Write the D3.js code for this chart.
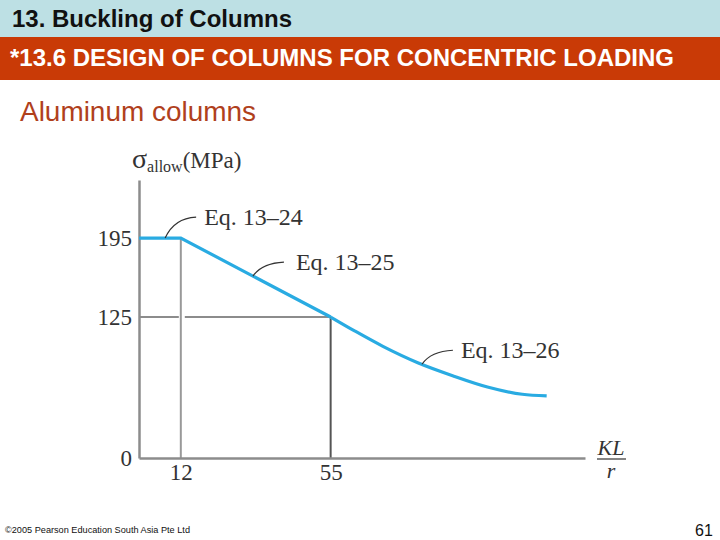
<!DOCTYPE html>
<html>
<head>
<meta charset="UTF-8">
<title>Aluminum columns</title>
<script src="https://d3js.org/d3.v7.min.js"></script>
<style>
  body { margin: 0; background: #fff; }
  svg { display: block; }
</style>
</head>
<body>
<svg id="chart"></svg>
<script>
// data
const klTicks = [12, 55];
const stressTicks = [0, 125, 195];
const linearKL = [0, 12, 55];
const linearStress = [195, 195, 125];
const curveKL = [55, 62, 70, 80, 90, 100, 110, 117];
const curveStress = [125, 112.5, 99, 84.5, 73, 63, 56.5, 55];
const eqLabels = ["Eq. 13\u201324", "Eq. 13\u201325", "Eq. 13\u201326"];
const eqAnchorKL = [7.5, 32.7, 81.2];

const width = 720, height = 540;
const svg = d3.select("#chart").attr("width", width).attr("height", height);

// header bands
svg.append("rect").attr("x", 0).attr("y", 0).attr("width", width).attr("height", 37).attr("fill", "#bde0e4");
svg.append("rect").attr("x", 0).attr("y", 37).attr("width", width).attr("height", 43).attr("fill", "#c93a06");
svg.append("text").attr("x", 12).attr("y", 27)
  .style("font", "bold 24px 'Liberation Sans', Arial, sans-serif").attr("fill", "#111")
  .attr("textLength", 280).attr("lengthAdjust", "spacingAndGlyphs")
  .text("13. Buckling of Columns");
svg.append("text").attr("x", 10).attr("y", 66)
  .style("font", "bold 24px 'Liberation Sans', Arial, sans-serif").attr("fill", "#fff")
  .attr("textLength", 664).attr("lengthAdjust", "spacingAndGlyphs")
  .text("*13.6 DESIGN OF COLUMNS FOR CONCENTRIC LOADING");
svg.append("text").attr("x", 20).attr("y", 121)
  .style("font", "28px 'Liberation Sans', Arial, sans-serif").attr("fill", "#b0401c")
  .attr("textLength", 236).attr("lengthAdjust", "spacingAndGlyphs")
  .text("Aluminum columns");

// scales
const x = d3.scaleLinear().domain([0, 128]).range([139, 585]);
const y = d3.scaleLinear().domain([0, 246.5]).range([458, 180]);

const serif = "'Liberation Serif', 'Times New Roman', serif";
const gray = "#8c8c8c";

// guide lines
svg.append("line")
  .attr("x1", x(0)).attr("x2", x(12) - 2).attr("y1", y(125)).attr("y2", y(125))
  .attr("stroke", gray).attr("stroke-width", 2);
svg.append("line")
  .attr("x1", x(12) + 4).attr("x2", x(55)).attr("y1", y(125)).attr("y2", y(125))
  .attr("stroke", gray).attr("stroke-width", 2);
svg.append("line")
  .attr("x1", x(12)).attr("x2", x(12)).attr("y1", y(195)).attr("y2", y(0))
  .attr("stroke", "#999").attr("stroke-width", 2);
svg.append("line")
  .attr("x1", x(55)).attr("x2", x(55)).attr("y1", y(125)).attr("y2", y(0))
  .attr("stroke", "#555").attr("stroke-width", 2);

// axes
const yAxis = svg.append("g")
  .attr("transform", `translate(${x(0)},0)`)
  .call(d3.axisLeft(y).tickValues(stressTicks).tickSize(0).tickPadding(7));
const xAxis = svg.append("g")
  .attr("transform", `translate(0,${y(0)})`)
  .call(d3.axisBottom(x).tickValues(klTicks).tickSize(0).tickPadding(4));
[yAxis, xAxis].forEach(a => {
  a.select(".domain").attr("stroke", gray).attr("stroke-width", 2.5);
  a.selectAll("text").style("font", `23px ${serif}`).attr("fill", "#333");
});
xAxis.selectAll("text").attr("dy", "0.8em");

// stress curve
const lineGen = d3.line().x(d => x(d[0])).y(d => y(d[1]));
svg.append("path")
  .datum(d3.zip(linearKL, linearStress))
  .attr("d", lineGen)
  .attr("fill", "none").attr("stroke", "#29abe2").attr("stroke-width", 3.2);
svg.append("path")
  .datum(d3.zip(curveKL, curveStress))
  .attr("d", lineGen.curve(d3.curveMonotoneX))
  .attr("fill", "none").attr("stroke", "#29abe2").attr("stroke-width", 3.2);

// stress at a given KL/r along the drawn curve
function stressAt(k) {
  if (k <= 12) return 195;
  if (k <= 55) return 195 - (k - 12) * 70 / 43;
  return d3.scaleLinear().domain(curveKL).range(curveStress)(k);
}

// equation labels with leader lines
eqLabels.forEach((label, i) => {
  const ax = x(eqAnchorKL[i]), ay = y(stressAt(eqAnchorKL[i]));
  const ex = ax + 31, ey = ay - 14 - (i === 0 ? 7 : 0);
  svg.append("path")
    .attr("d", `M${ax},${ay} Q${ax + 9},${ey + 1} ${ex},${ey}`)
    .attr("fill", "none").attr("stroke", "#333").attr("stroke-width", 1.2);
  svg.append("text").attr("x", ex + 8 + (i === 1 ? 4 : 0)).attr("y", ey + 8)
    .style("font", `24px ${serif}`).attr("fill", "#333")
    .text(label);
});

// axis titles
const yt = svg.append("text").attr("x", 132).attr("y", 168)
  .style("font-family", serif).attr("fill", "#333");
yt.append("tspan").style("font-size", "28px").text("\u03c3");
yt.append("tspan").style("font-size", "16px").attr("dy", 4).text("allow");
yt.append("tspan").style("font-size", "23px").attr("dy", -4).text("(MPa)");

svg.append("text").attr("x", 611).attr("y", 455).attr("text-anchor", "middle")
  .style("font", `italic 22px ${serif}`).attr("fill", "#333").text("KL");
svg.append("line").attr("x1", 597).attr("x2", 626).attr("y1", 459).attr("y2", 459)
  .attr("stroke", "#333").attr("stroke-width", 1.2);
svg.append("text").attr("x", 611).attr("y", 478).attr("text-anchor", "middle")
  .style("font", `italic 22px ${serif}`).attr("fill", "#333").text("r");

// footer
svg.append("text").attr("x", 5).attr("y", 533)
  .style("font", "9px 'Liberation Sans', Arial, sans-serif").attr("fill", "#111")
  .attr("textLength", 185).attr("lengthAdjust", "spacingAndGlyphs")
  .text("\u00a92005 Pearson Education South Asia Pte Ltd");
svg.append("text").attr("x", 695).attr("y", 536)
  .style("font", "16px 'Liberation Sans', Arial, sans-serif").attr("fill", "#111")
  .text("61");
</script>
</body>
</html>
